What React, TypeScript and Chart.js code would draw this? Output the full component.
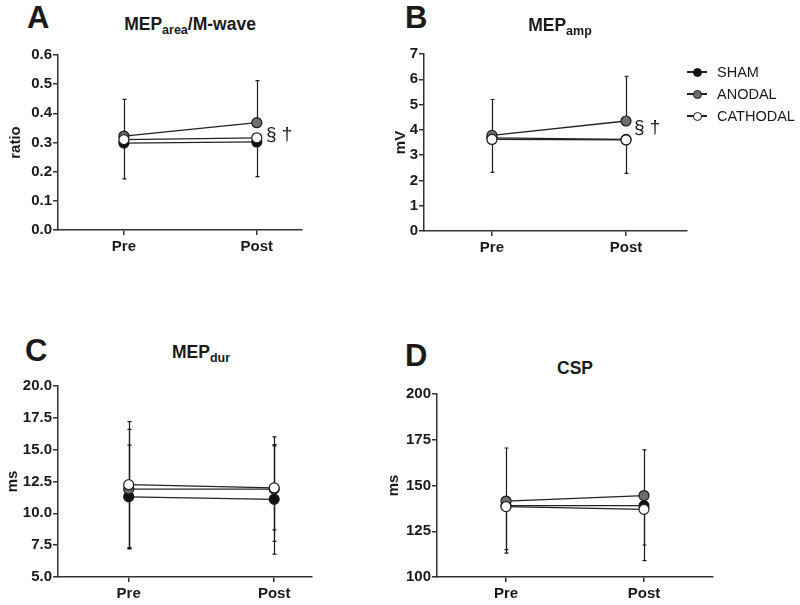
import React, { useEffect, useRef } from 'react';
import { Chart, registerables } from 'chart.js';

Chart.register(...registerables);

// ---------- data ----------
const timepoints = ['Pre', 'Post'];
const groups = ['SHAM', 'ANODAL', 'CATHODAL'];

// A: MEP area / M-wave (ratio)  — means, upper and lower error lengths
const areaSham = [0.298, 0.302];
const areaShamUp = [0, 0];
const areaShamDown = [0.123, 0.119];
const areaAnodal = [0.322, 0.368];
const areaAnodalUp = [0.126, 0.144];
const areaAnodalDown = [0, 0];
const areaCathodal = [0.31, 0.316];
const areaCathodalUp = [0, 0];
const areaCathodalDown = [0, 0];
const areaTicks = [0, 0.1, 0.2, 0.3, 0.4, 0.5, 0.6];

// B: MEP amplitude (mV)
const ampSham = [3.68, 3.62];
const ampShamUp = [0, 0];
const ampShamDown = [1.36, 1.34];
const ampAnodal = [3.78, 4.35];
const ampAnodalUp = [1.42, 1.77];
const ampAnodalDown = [0, 0];
const ampCathodal = [3.62, 3.6];
const ampCathodalUp = [0, 0];
const ampCathodalDown = [0, 0];
const ampTicks = [0, 1, 2, 3, 4, 5, 6, 7];

// C: MEP duration (ms)
const durSham = [11.3, 11.1];
const durShamUp = [4.05, 4.3];
const durShamDown = [4.05, 4.3];
const durAnodal = [11.9, 11.9];
const durAnodalUp = [4.7, 4.1];
const durAnodalDown = [4.7, 4.1];
const durCathodal = [12.25, 12.0];
const durCathodalUp = [4.95, 3.3];
const durCathodalDown = [4.95, 3.3];
const durTicks = [5, 7.5, 10, 12.5, 15, 17.5, 20];

// D: CSP (ms)
const cspSham = [139, 139];
const cspShamUp = [0, 0];
const cspShamDown = [24, 21.5];
const cspAnodal = [141.5, 144.5];
const cspAnodalUp = [29, 25];
const cspAnodalDown = [0, 0];
const cspCathodal = [138.5, 137];
const cspCathodalUp = [0, 0];
const cspCathodalDown = [25.5, 28];
const cspTicks = [100, 125, 150, 175, 200];

// ---------- styles ----------
const FONT = "'Liberation Sans', Arial, Helvetica, sans-serif";
const INK = '#1a1a1a';
const fills = ['#111111', '#6e6e6e', '#ffffff'];
const orders = [2, 1, 0];

const errorBarPlugin = {
  id: 'errorBars',
  beforeDatasetsDraw(chart: any) {
    const { ctx } = chart;
    const xs = chart.scales.x;
    const ys = chart.scales.y;
    ctx.save();
    ctx.strokeStyle = INK;
    ctx.lineWidth = 1.2;
    chart.data.datasets.forEach((ds: any) => {
      const up = ds.errUp || [];
      const down = ds.errDown || [];
      ds.data.forEach((p: any, i: number) => {
        const x = Math.round(xs.getPixelForValue(p.x)) + 0.5;
        const y0 = ys.getPixelForValue(p.y);
        const draw = (len: number) => {
          if (!len) return;
          const ye = ys.getPixelForValue(p.y + len);
          ctx.beginPath();
          ctx.moveTo(x, y0);
          ctx.lineTo(x, ye);
          ctx.moveTo(x - 2, ye);
          ctx.lineTo(x + 2, ye);
          ctx.stroke();
        };
        draw(up[i] || 0);
        draw(-(down[i] || 0));
      });
    });
    ctx.restore();
  },
};

type PanelDef = {
  means: number[][];
  ups: number[][];
  downs: number[][];
  ticks: number[];
  decimals: number;
  yTitle: string;
  xMin: number;
  xMax: number;
  yWidth: number;
  xHeight: number;
  padTop: number;
  padRight: number;
  titlePad: number;
};

function buildConfig(p: PanelDef): any {
  const datasets = groups.map((g, gi) => ({
    label: g,
    data: timepoints.map((_, ti) => ({ x: ti, y: p.means[gi][ti] })),
    errUp: p.ups[gi],
    errDown: p.downs[gi],
    order: orders[gi],
    borderColor: '#222222',
    borderWidth: 1.3,
    backgroundColor: fills[gi],
    pointBackgroundColor: fills[gi],
    pointBorderColor: '#1a1a1a',
    pointBorderWidth: 1.2,
    pointRadius: 5,
    pointHoverRadius: 5,
    fill: false,
    tension: 0,
  }));
  const tickFont = { family: FONT, size: 15, weight: 'bold' as const };
  return {
    type: 'line',
    data: { datasets },
    plugins: [errorBarPlugin],
    options: {
      animation: false,
      responsive: false,
      maintainAspectRatio: false,
      events: [],
      layout: { padding: { top: p.padTop, right: p.padRight, left: 0, bottom: 0 } },
      plugins: { legend: { display: false }, tooltip: { enabled: false } },
      scales: {
        x: {
          type: 'linear',
          min: p.xMin,
          max: p.xMax,
          afterBuildTicks: (s: any) => {
            s.ticks = timepoints.map((_, i) => ({ value: i }));
          },
          afterFit: (s: any) => {
            s.height = p.xHeight;
          },
          ticks: {
            callback: (v: any) => timepoints[v] ?? '',
            font: tickFont,
            color: INK,
            padding: 3,
            autoSkip: false,
            maxRotation: 0,
          },
          grid: { drawOnChartArea: false, drawTicks: true, tickLength: 5, color: '#333', lineWidth: 1.5 },
          border: { display: true, color: '#333', width: 1.5 },
        },
        y: {
          type: 'linear',
          min: p.ticks[0],
          max: p.ticks[p.ticks.length - 1],
          afterBuildTicks: (s: any) => {
            s.ticks = p.ticks.map((v) => ({ value: v }));
          },
          afterFit: (s: any) => {
            s.width = p.yWidth;
          },
          ticks: {
            callback: (v: any) => Number(v).toFixed(p.decimals),
            font: tickFont,
            color: INK,
            padding: 1,
            autoSkip: false,
          },
          title: {
            display: true,
            text: p.yTitle,
            font: { family: FONT, size: 15, weight: 'bold' },
            color: INK,
            padding: { top: p.titlePad, bottom: 0 },
          },
          grid: { drawOnChartArea: false, drawTicks: true, tickLength: 5, color: '#333', lineWidth: 1.5 },
          border: { display: true, color: '#333', width: 1.5 },
        },
      },
    },
  };
}

function Panel(props: { left: number; top: number; width: number; height: number; def: PanelDef }) {
  const ref = useRef<HTMLCanvasElement | null>(null);
  useEffect(() => {
    if (!ref.current) return;
    const chart = new Chart(ref.current, buildConfig(props.def));
    return () => chart.destroy();
  }, []);
  return (
    <canvas
      ref={ref}
      width={props.width}
      height={props.height}
      style={{ position: 'absolute', left: props.left, top: props.top, width: props.width, height: props.height }}
    />
  );
}

const panelA: PanelDef = {
  means: [areaSham, areaAnodal, areaCathodal],
  ups: [areaShamUp, areaAnodalUp, areaCathodalUp],
  downs: [areaShamDown, areaAnodalDown, areaCathodalDown],
  ticks: areaTicks, decimals: 1, yTitle: 'ratio',
  xMin: -0.496, xMax: 1.34, yWidth: 58, xHeight: 30, padTop: 15, padRight: 18, titlePad: 7,
};
const panelB: PanelDef = {
  means: [ampSham, ampAnodal, ampCathodal],
  ups: [ampShamUp, ampAnodalUp, ampCathodalUp],
  downs: [ampShamDown, ampAnodalDown, ampCathodalDown],
  ticks: ampTicks, decimals: 0, yTitle: 'mV',
  xMin: -0.507, xMax: 1.455, yWidth: 54, xHeight: 29, padTop: 14, padRight: 13, titlePad: 22,
};
const panelC: PanelDef = {
  means: [durSham, durAnodal, durCathodal],
  ups: [durShamUp, durAnodalUp, durCathodalUp],
  downs: [durShamDown, durAnodalDown, durCathodalDown],
  ticks: durTicks, decimals: 1, yTitle: 'ms',
  xMin: -0.486, xMax: 1.26, yWidth: 58, xHeight: 28, padTop: 16, padRight: 18, titlePad: 4,
};
const panelD: PanelDef = {
  means: [cspSham, cspAnodal, cspCathodal],
  ups: [cspShamUp, cspAnodalUp, cspCathodalUp],
  downs: [cspShamDown, cspAnodalDown, cspCathodalDown],
  ticks: cspTicks, decimals: 0, yTitle: 'ms',
  xMin: -0.5, xMax: 1.5, yWidth: 67, xHeight: 28, padTop: 16, padRight: 17, titlePad: 15,
};

const abs = (extra: React.CSSProperties): React.CSSProperties => ({
  position: 'absolute',
  fontFamily: FONT,
  color: INK,
  whiteSpace: 'nowrap',
  ...extra,
});

function Letter(props: { text: string; left: number; top: number }) {
  return (
    <div style={abs({ left: props.left, top: props.top, fontSize: 31, fontWeight: 'bold', lineHeight: '36px' })}>
      {props.text}
    </div>
  );
}

function Title(props: { center: number; top: number; children: React.ReactNode }) {
  return (
    <div
      style={abs({
        left: props.center - 120,
        width: 240,
        top: props.top,
        textAlign: 'center',
        fontSize: 17.5,
        fontWeight: 'bold',
        lineHeight: '20px',
      })}
    >
      {props.children}
    </div>
  );
}

const subStyle: React.CSSProperties = { fontSize: 12.5, verticalAlign: '-4px' };

function LegendRow(props: { label: string; fill: string; y: number }) {
  return (
    <>
      <div style={abs({ left: 687, top: props.y - 0.75, width: 20, height: 1.5, background: '#222' })} />
      <div
        style={abs({
          left: 692.5,
          top: props.y - 4.5,
          width: 7,
          height: 7,
          borderRadius: '50%',
          background: props.fill,
          border: '1.2px solid #1a1a1a',
        })}
      />
      <div style={abs({ left: 717, top: props.y - 9, fontSize: 14.5, lineHeight: '18px' })}>{props.label}</div>
    </>
  );
}

export default function App() {
  return (
    <div style={{ position: 'absolute', left: 0, top: 0, width: 800, height: 605, background: '#fff', overflow: 'hidden' }}>
      <Panel left={0} top={40} width={320} height={220} def={panelA} />
      <Panel left={370} top={40} width={330} height={220} def={panelB} />
      <Panel left={0} top={370} width={330} height={235} def={panelC} />
      <Panel left={370} top={378} width={360} height={227} def={panelD} />

      <Letter text="A" left={27} top={0} />
      <Letter text="B" left={405} top={0} />
      <Letter text="C" left={25} top={333} />
      <Letter text="D" left={405} top={338} />

      <Title center={190} top={14}>
        MEP<span style={subStyle}>area</span>/M-wave
      </Title>
      <Title center={560} top={15}>
        MEP<span style={subStyle}>amp</span>
      </Title>
      <Title center={201} top={342}>
        MEP<span style={subStyle}>dur</span>
      </Title>
      <Title center={575} top={358}>
        CSP
      </Title>

      <div style={abs({ left: 266, top: 123, fontSize: 19, lineHeight: '22px' })}>§ †</div>
      <div style={abs({ left: 634, top: 116, fontSize: 19, lineHeight: '22px' })}>§ †</div>

      {groups.map((g, i) => (
        <LegendRow key={g} label={g} fill={fills[i]} y={[72, 94, 116][i]} />
      ))}
    </div>
  );
}
